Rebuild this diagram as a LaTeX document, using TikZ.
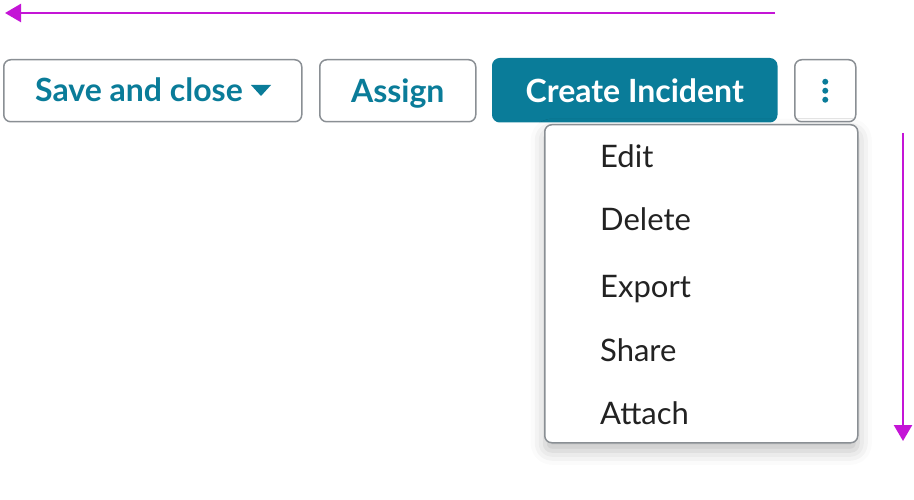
\documentclass[tikz,border=0pt]{standalone}
\usepackage{fontspec}
\setmainfont{Lato}
\usetikzlibrary{arrows.meta,shadows.blur}
\definecolor{teal}{HTML}{0A7C99}
\definecolor{mag}{HTML}{C415D6}
\definecolor{bord}{HTML}{8A8F94}
\definecolor{txt}{HTML}{222222}
\tikzset{
 btn/.style={draw=bord,line width=1.5pt,rounded corners=7pt,fill=white,text=teal,font=\fontsize{32}{34}\selectfont\bfseries,inner sep=0pt,anchor=north west,text height=27pt,text depth=3pt},
 item/.style={anchor=west,text=txt,font=\fontsize{31}{33}\selectfont,inner sep=0pt,text height=26pt,text depth=3pt},
 marr/.style={draw=mag,line width=2.5pt,-{Triangle[length=16pt,width=18pt]}}
}
\begin{document}
\begin{tikzpicture}[x=1pt,y=-1pt]
\useasboundingbox (0,0) rectangle (914,500);
\node[btn,minimum width=298pt,minimum height=62pt] (save) at (3,59) {};
\node[text=teal,font=\fontsize{32}{34}\selectfont\bfseries,anchor=west,inner sep=0pt,text height=27pt,text depth=3pt] (savet) at (35,90) {Save and close};
\fill[teal] (251,85) -- (271,85) -- (261,96) -- cycle;
\node[btn,minimum width=156pt,minimum height=62pt] (assign) at (319,59) {Assign};
\node[btn,draw=teal,fill=teal,text=white,minimum width=284pt,minimum height=63pt] (create) at (492,58) {Create Incident};
\node[btn,minimum width=61pt,minimum height=62pt] (kebab) at (794,59) {};
\foreach \yy in {-9,0,9} \fill[teal] ([yshift=\yy]kebab.center) circle (3pt);
\node[draw=bord,line width=1.5pt,rounded corners=7pt,fill=white,minimum width=313pt,minimum height=318pt,anchor=north west,inner sep=0pt,blur shadow={shadow xshift=0pt,shadow yshift=-8pt,shadow blur radius=14pt,shadow opacity=25}] (menu) at (544,124) {};
\node[item] (i1) at (600,156) {Edit};
\node[item] (i2) at (600,219) {Delete};
\node[item] (i3) at (600,286) {Export};
\node[item] (i4) at (600,350) {Share};
\node[item] (i5) at (600,413) {Attach};
\coordinate (a1) at (775,13); \coordinate (a2) at (5,13);
\coordinate (b1) at (903,133); \coordinate (b2) at (903,441);
\draw[marr] (a1) -- (a2);
\draw[marr] (b1) -- (b2);
\end{tikzpicture}
\end{document}
